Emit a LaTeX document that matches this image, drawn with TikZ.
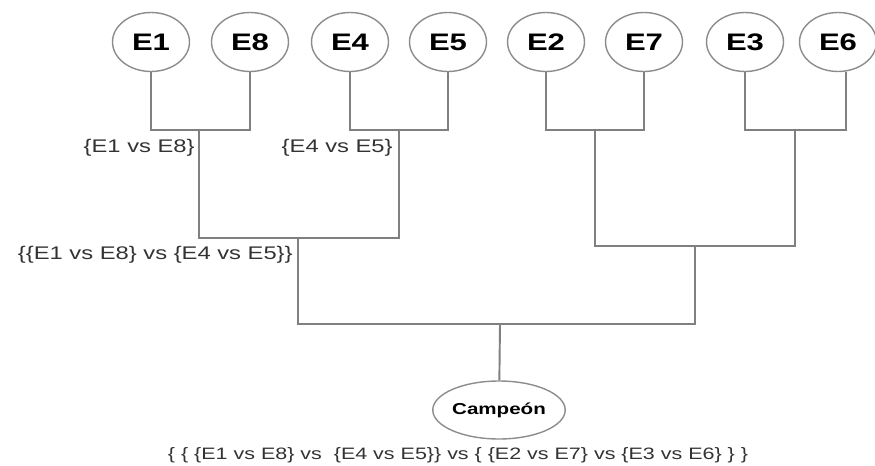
\documentclass[tikz,border=0pt]{standalone}
\usepackage{fontspec}
\setmainfont{Liberation Sans}[FakeStretch=1.3]
\usetikzlibrary{shapes.geometric,positioning}

\begin{document}
\begin{tikzpicture}[x=0.02cm,y=-0.02cm,
	team/.style={draw=gray!90,ellipse,minimum width=1.54cm,minimum height=1.18cm,inner sep=0pt,line width=0.8pt,font=\fontsize{13.6}{15}\selectfont\bfseries},
	lbl/.style={inner sep=0pt,text=black!80,font=\fontsize{10.4}{12}\selectfont},
	wire/.style={draw=gray,line width=1.1pt}]
	\useasboundingbox (0,0) rectangle (875,466);

	% equipos
	\node[team] (e1) at (151,42){E1};
	\node[team] (e8) at (250,42){E8};
	\node[team] (e4) at (350,42){E4};
	\node[team] (e5) at (448,42){E5};
	\node[team] (e2) at (546,42){E2};
	\node[team] (e7) at (644,42){E7};
	\node[team] (e3) at (745,42){E3};
	\node[team] (e6) at (838,42){E6};

	\node[team,minimum width=2.56cm,minimum height=1.16cm,font=\fontsize{9}{11}\selectfont\bfseries] (camp) at (499,410){Campeón};

	% cruces
	\coordinate (j18) at (199,130);
	\coordinate (j45) at (399,130);
	\coordinate (j27) at (595,130);
	\coordinate (j36) at (795,130);
	\coordinate (j1845) at (298,238);
	\coordinate (j2736) at (695,246);
	\coordinate (jfin) at (500,324);

	\draw[wire] (e1) |- (j18) -| (e8);
	\draw[wire] (e4) |- (j45) -| (e5);
	\draw[wire] (e2) |- (j27) -| (e7);
	\draw[wire] (e3) |- (j36) -| ([xshift=0.16cm]e6.south);
	\draw[wire] (j18) |- (j1845) -| (j45);
	\draw[wire] (j27) |- (j2736) -| (j36);
	\draw[wire] (j1845) |- (jfin) -| (j2736);
	\draw[wire] (jfin) -- (camp);

	% etiquetas
	\node[lbl,anchor=east] (l18) at (195,148){\{E1 vs E8\}};
	\node[lbl,anchor=east] (l45) at (393,148){\{E4 vs E5\}};
	\node[lbl,anchor=east] (l1845) at (293,255){\{\{E1 vs E8\} vs \{E4 vs E5\}\}};
	\node[lbl,font=\fontsize{9.4}{11}\selectfont] (lfin) at (458,455){\{ \{ \{E1 vs E8\} vs \ \{E4 vs E5\}\} vs \{ \{E2 vs E7\} vs \{E3 vs E6\} \} \}};
\end{tikzpicture}
\end{document}
